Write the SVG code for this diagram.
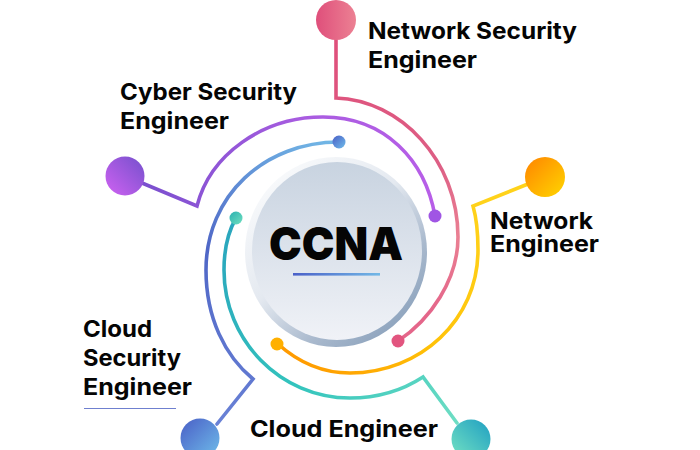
<svg xmlns="http://www.w3.org/2000/svg" width="700" height="450" viewBox="0 0 700 450">
<style>
.c{fill:none;stroke-width:3.6;stroke-linejoin:miter;stroke-linecap:round}
.t{font-family:"Inter","Liberation Sans",sans-serif;font-weight:700;font-size:23px;fill:#050505}
</style>
<defs>
<linearGradient id="gPinkN" x1="0" y1="0" x2="1" y2="0"><stop offset="0" stop-color="#df4f7b"/><stop offset="1" stop-color="#ec8193"/></linearGradient>
<linearGradient id="gPurN" x1="0" y1="1" x2="1" y2="0"><stop offset="0" stop-color="#d062f2"/><stop offset="1" stop-color="#7450cc"/></linearGradient>
<linearGradient id="gBluN" x1="0" y1="0" x2="1" y2="1"><stop offset="0" stop-color="#4a5ec6"/><stop offset="1" stop-color="#6fbdea"/></linearGradient>
<linearGradient id="gTeaN" x1="1" y1="0" x2="0" y2="1"><stop offset="0" stop-color="#1f9fc2"/><stop offset="1" stop-color="#74e2c2"/></linearGradient>
<linearGradient id="gTeaD" x1="0" y1="0" x2="1" y2="1"><stop offset="0" stop-color="#2ab0b0"/><stop offset="1" stop-color="#70e0c0"/></linearGradient>
<linearGradient id="gOraN" x1="0" y1="0" x2="1" y2="1"><stop offset="0" stop-color="#ff8400"/><stop offset="1" stop-color="#ffd600"/></linearGradient>
<linearGradient id="gPink" gradientUnits="userSpaceOnUse" x1="336" y1="40" x2="458" y2="300"><stop offset="0" stop-color="#df4f7b"/><stop offset="0.55" stop-color="#dd5f85"/><stop offset="0.8" stop-color="#ea8093"/><stop offset="1" stop-color="#e4668a"/></linearGradient>
<linearGradient id="gPur" gradientUnits="userSpaceOnUse" x1="150" y1="190" x2="435" y2="216"><stop offset="0" stop-color="#7c50cf"/><stop offset="0.5" stop-color="#a85ce0"/><stop offset="1" stop-color="#b85ee8"/></linearGradient>
<linearGradient id="gBlu" gradientUnits="userSpaceOnUse" x1="210" y1="420" x2="339" y2="142"><stop offset="0" stop-color="#6a82d6"/><stop offset="0.5" stop-color="#4f66c6"/><stop offset="1" stop-color="#72b8e6"/></linearGradient>
<linearGradient id="gTea" gradientUnits="userSpaceOnUse" x1="236" y1="218" x2="470" y2="430"><stop offset="0" stop-color="#2aa6bd"/><stop offset="0.5" stop-color="#33c4bd"/><stop offset="1" stop-color="#74e0c4"/></linearGradient>
<linearGradient id="gYel" gradientUnits="userSpaceOnUse" x1="470" y1="200" x2="280" y2="344"><stop offset="0" stop-color="#ffd21a"/><stop offset="0.5" stop-color="#ffc107"/><stop offset="1" stop-color="#ff9a00"/></linearGradient>
<linearGradient id="gRing" x1="0.1" y1="0.05" x2="0.85" y2="0.95"><stop offset="0" stop-color="#fbfcfd"/><stop offset="0.45" stop-color="#e4e9f0"/><stop offset="0.75" stop-color="#a9b9cd"/><stop offset="1" stop-color="#89a0bb"/></linearGradient>
<linearGradient id="gFace" x1="0" y1="0" x2="0" y2="1"><stop offset="0" stop-color="#c8d3e0"/><stop offset="1" stop-color="#f0f2f7"/></linearGradient>
<linearGradient id="gLine" x1="0" y1="0" x2="1" y2="0"><stop offset="0" stop-color="#4a60c8"/><stop offset="1" stop-color="#72b8e6"/></linearGradient>
</defs>
<rect width="700" height="450" fill="#fff"/>
<g id="connectors">
<path class="c" stroke="url(#gPink)" d="M336 40V98C400 100 458 160 458 237C458 280 430 320 398 341"/>
<path class="c" stroke="url(#gPur)" d="M142 183L197 206C210 155 262 117 323 117C385 117 425 160 435 216"/>
<path class="c" stroke="url(#gBlu)" d="M217 424L253 379C225 356 206 318 206 270C206 195 265 142 339 142"/>
<path class="c" stroke="url(#gTea)" d="M236 218C228 232 224 250 224 270C224 340 280 398 350 398C375 398 400 392 423 377L457 423"/>
<path class="c" stroke="url(#gYel)" d="M528 184L473 206C477 220 478 235 478 250C478 320 420 373 350 373C322 373 298 362 278 344"/>
<circle cx="339" cy="142" r="6.5" fill="url(#gBluN)"/>
<circle cx="435" cy="216" r="6.5" fill="#a055e4"/>
<circle cx="398" cy="341" r="6.5" fill="#e2557f"/>
<circle cx="277" cy="344" r="6.5" fill="#ffb000"/>
<circle cx="236" cy="218" r="6.5" fill="url(#gTeaD)"/>
</g>
<g id="node-ccna">
<ellipse cx="336" cy="252" rx="91" ry="95" fill="url(#gRing)"/>
<ellipse cx="337" cy="251" rx="85" ry="89" fill="url(#gFace)"/>
<text x="269" y="260" font-family="Inter,'Liberation Sans',sans-serif" font-weight="900" font-size="46" fill="#050505" textLength="134" lengthAdjust="spacingAndGlyphs">CCNA</text>
<rect x="293" y="273" width="87" height="2.6" fill="url(#gLine)"/>
</g>
<g id="node-network-security">
<circle cx="336" cy="20" r="20" fill="url(#gPinkN)"/>
<text class="t" x="368" y="39" textLength="209" lengthAdjust="spacingAndGlyphs">Network Security</text>
<text class="t" x="368" y="68" textLength="109" lengthAdjust="spacingAndGlyphs">Engineer</text>
</g>
<g id="node-cyber-security">
<circle cx="125" cy="176" r="19.5" fill="url(#gPurN)"/>
<text class="t" x="120" y="100" textLength="177" lengthAdjust="spacingAndGlyphs">Cyber Security</text>
<text class="t" x="120" y="129" textLength="109" lengthAdjust="spacingAndGlyphs">Engineer</text>
</g>
<g id="node-network">
<circle cx="545" cy="177" r="20" fill="url(#gOraN)"/>
<text class="t" x="490" y="229" textLength="103" lengthAdjust="spacingAndGlyphs">Network</text>
<text class="t" x="490" y="252" textLength="109" lengthAdjust="spacingAndGlyphs">Engineer</text>
</g>
<g id="node-cloud-security">
<circle cx="200" cy="438" r="19.5" fill="url(#gBluN)"/>
<text class="t" x="83" y="337" textLength="69" lengthAdjust="spacingAndGlyphs">Cloud</text>
<text class="t" x="83" y="366" textLength="98" lengthAdjust="spacingAndGlyphs">Security</text>
<text class="t" x="83" y="395" textLength="109" lengthAdjust="spacingAndGlyphs">Engineer</text>
<rect x="84" y="408" width="92" height="1" fill="#6f80cf"/>
</g>
<g id="node-cloud">
<circle cx="471" cy="439" r="19.5" fill="url(#gTeaN)"/>
<text class="t" x="250" y="437" textLength="188" lengthAdjust="spacingAndGlyphs">Cloud Engineer</text>
</g>
</svg>
